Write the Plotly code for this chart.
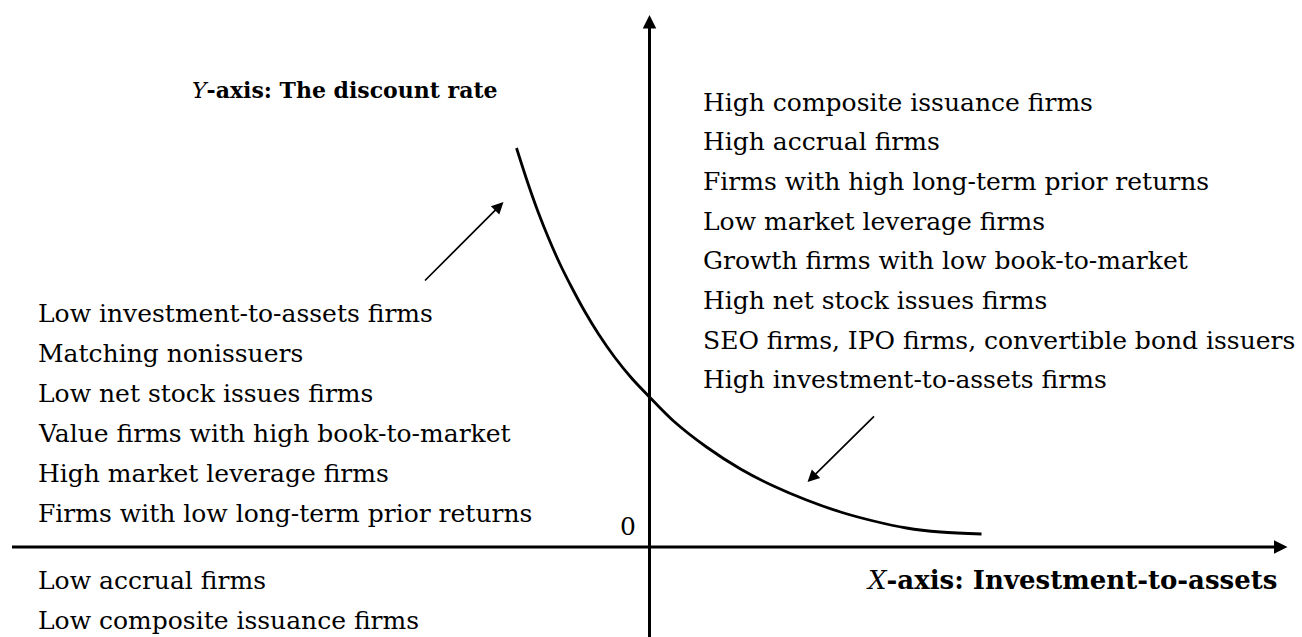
import plotly.graph_objects as go

# Curve (x: investment-to-assets, y: discount rate), origin at axes crossing
curve_x = [-133, -121, -111, -101, -90, -78, -65, -51, -35, -18, 0, 24, 57, 91, 124, 157, 191, 224, 257, 291, 332]
curve_y = [399, 362, 334, 309, 284, 260, 236, 213, 190, 169, 150, 126, 100, 78, 61, 47, 35, 26, 19, 15, 13]

left_labels = [
    "Low investment-to-assets firms",
    "Matching nonissuers",
    "Low net stock issues firms",
    "Value firms with high book-to-market",
    "High market leverage firms",
    "Firms with low long-term prior returns",
]
below_labels = ["Low accrual firms", "Low composite issuance firms"]
right_labels = [
    "High composite issuance firms",
    "High accrual firms",
    "Firms with high long-term prior returns",
    "Low market leverage firms",
    "Growth firms with low book-to-market",
    "High net stock issues firms",
    "SEO firms, IPO firms, convertible bond issuers",
    "High investment-to-assets firms",
]

FONT = "DejaVu Serif"
FS = 25

fig = go.Figure()
fig.add_trace(go.Scatter(x=curve_x, y=curve_y, mode="lines",
                         line=dict(color="black", width=2.8, shape="spline", smoothing=1.0,
                                   simplify=False),
                         hoverinfo="skip"))

ann = []
# axes arrows
ann.append(dict(x=0, y=532, ax=0, ay=-95, xref="x", yref="y", axref="x", ayref="y",
                showarrow=True, arrowhead=2, arrowsize=0.9, arrowwidth=3, arrowcolor="black", text=""))
ann.append(dict(x=638, y=0, ax=-639, ay=0, xref="x", yref="y", axref="x", ayref="y",
                showarrow=True, arrowhead=2, arrowsize=0.9, arrowwidth=3, arrowcolor="black", text=""))
# pointer arrows
ann.append(dict(x=-146, y=345, ax=-226, ay=265, xref="x", yref="y", axref="x", ayref="y",
                showarrow=True, arrowhead=2, arrowsize=1.4, arrowwidth=1.7, arrowcolor="black", text=""))
ann.append(dict(x=158, y=65, ax=226, ay=132, xref="x", yref="y", axref="x", ayref="y",
                showarrow=True, arrowhead=2, arrowsize=1.4, arrowwidth=1.7, arrowcolor="black", text=""))

def txt(s, x, y, anchor="left", size=FS):
    ann.append(dict(x=x, y=y, xref="x", yref="y", text=s, showarrow=False,
                    xanchor=anchor, yanchor="middle", font=dict(family=FONT, size=size, color="black")))

for i, s in enumerate(left_labels):
    txt(s, -614, 234 - 40 * i)
for i, s in enumerate(below_labels):
    txt(s, -614, -33 - 40 * i)
for i, s in enumerate(right_labels):
    txt(s, 51, 445 - 39.7 * i)

txt("<i>Y</i><b>-axis: The discount rate</b>", -460, 457, size=22)
txt("<i>X</i><b>-axis: Investment-to-assets</b>", 629, -33, anchor="right", size=26)
txt("0", -12, 21, anchor="right")

fig.update_layout(
    width=1302, height=637,
    margin=dict(l=0, r=0, t=0, b=0),
    paper_bgcolor="white", plot_bgcolor="white",
    showlegend=False,
    xaxis=dict(range=[-649.5, 652.5], visible=False, fixedrange=True),
    yaxis=dict(range=[-90, 547], visible=False, fixedrange=True),
    annotations=ann,
)
fig.write_html("out.html", config={"displayModeBar": False},
               post_script="document.body.style.margin='0';document.body.style.overflow='hidden';")
